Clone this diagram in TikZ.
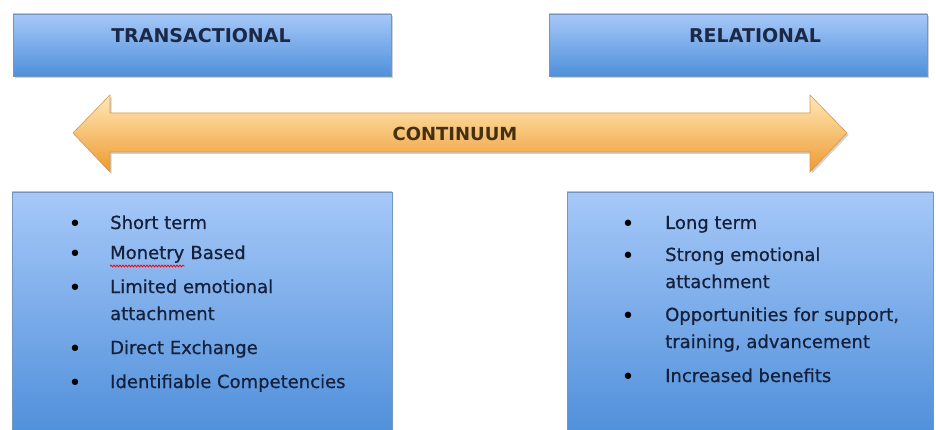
\documentclass[tikz,border=0pt]{standalone}
\usepackage{fontspec}
\setmainfont{DejaVu Sans}
\newfontfamily\listfont[FakeBold=0.6]{DejaVu Sans}
\usetikzlibrary{shadows,decorations.pathmorphing}
\definecolor{boxtop}{HTML}{A6C8F8}
\definecolor{boxbot}{HTML}{5090DB}
\definecolor{boxline}{HTML}{7395C0}
\definecolor{arrowtop}{HTML}{FFE8B8}
\definecolor{arrowmid}{HTML}{F9B655}
\definecolor{arrowbot}{HTML}{EE9A30}
\definecolor{arrowline}{HTML}{D8984C}
\definecolor{headtext}{HTML}{1B2946}
\definecolor{bodytext}{HTML}{15203A}
\definecolor{midtext}{HTML}{45300F}

\begin{document}
\begin{tikzpicture}[x=1pt, y=-1pt,
  every node/.style={inner sep=0pt},
  heading/.style={font=\fontsize{19}{22}\selectfont\bfseries, text=headtext},
  item/.style={font=\listfont\fontsize{18}{22}\selectfont, text=bodytext, anchor=base west},
  dot/.style={font=\fontsize{22}{24}\selectfont, text=black, anchor=base, yshift=-2.5pt},
  bluebox/.style={draw=boxline, line width=0.6pt, top color=boxtop, bottom color=boxbot},
  softshadow/.style={drop shadow={shadow xshift=1.5pt, shadow yshift=-2pt, opacity=0.3, fill=black!60}}
]
  \useasboundingbox (0,0) rectangle (936,430);

  % the two headings
  \path[bluebox, softshadow] (13,14) rectangle (391,76);
  \path[bluebox, softshadow] (549,14) rectangle (927,76);
  \node[heading] (trans) at (201,36) {TRANSACTIONAL};
  \node[heading] (rel)   at (755,36) {RELATIONAL};

  % continuum arrow
  \path[draw=arrowline, line width=0.6pt, top color=arrowtop, middle color=arrowmid,
        bottom color=arrowbot, softshadow]
    (73,133) -- (110,95) -- (110,113) -- (810,113) -- (810,95) -- (847,133)
    -- (810,172) -- (810,152) -- (110,152) -- (110,172) -- cycle;
  \node[heading, text=midtext, font=\fontsize{18}{22}\selectfont\bfseries]
        (cont) at (455,134) {CONTINUUM};

  % lists
  \path[bluebox] (12,192) rectangle (392,432);
  \path[bluebox] (567,192) rectangle (933,432);

  \foreach \yy in {229,259,293,354,388}
    \node[dot] (lb\yy) at (75,\yy) {•};
  \node[item] (l1) at (110,229) {Short term};
  \node[item] (l2) at (110,259) {Monetry};
  \node[item] (l2b) at (l2.base east) {\ Based};
  \draw[red, line width=0.8pt, decorate, decoration={snake, amplitude=0.9pt, segment length=3pt}]
    ([yshift=-7pt]l2.base west) -- ([yshift=-7pt]l2.base east);
  \node[item] (l3) at (110,293) {Limited emotional};
  \node[item] (l4) at (110,320) {attachment};
  \node[item] (l5) at (110,354) {Direct Exchange};
  \node[item] (l6) at (110,388) {Identifiable Competencies};

  \foreach \yy in {229,261,321,382}
    \node[dot] (rb\yy) at (628,\yy) {•};
  \node[item] (r1) at (665,229) {Long term};
  \node[item] (r2) at (665,261) {Strong emotional};
  \node[item] (r3) at (665,288) {attachment};
  \node[item] (r4) at (665,321) {Opportunities for support,};
  \node[item] (r5) at (665,348) {training, advancement};
  \node[item] (r6) at (665,382) {Increased benefits};
\end{tikzpicture}
\end{document}
